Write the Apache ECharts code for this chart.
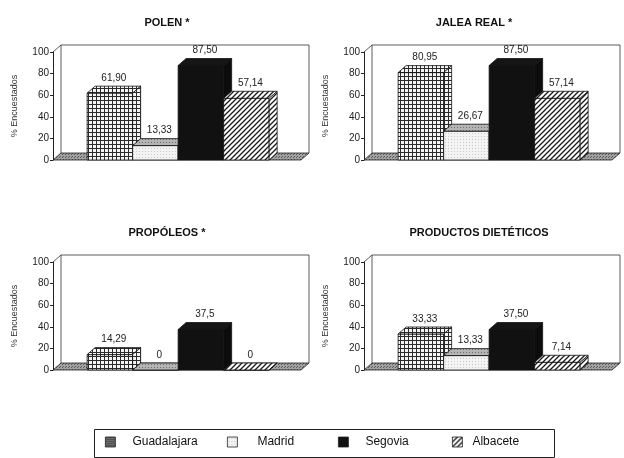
<!DOCTYPE html>
<html>
<head>
<meta charset="utf-8">
<script src="https://cdn.jsdelivr.net/npm/echarts@6/dist/echarts.min.js"></script>
<style>
  html, body { margin: 0; padding: 0; background: #fff; }
  #chart { width: 624px; height: 458px; }
</style>
</head>
<body>
<div id="chart"></div>
<script>
// Survey results: share of respondents (%) per province for four bee products
const cities = ['Guadalajara', 'Madrid', 'Segovia', 'Albacete'];
const panelTitles = ['POLEN *', 'JALEA REAL *', 'PROPÓLEOS *', 'PRODUCTOS DIETÉTICOS'];

const polen = [61.90, 13.33, 87.50, 57.14];
const jaleaReal = [80.95, 26.67, 87.50, 57.14];
const propoleos = [14.29, 0, 37.5, 0];
const dieteticos = [33.33, 13.33, 37.50, 7.14];

// decimals shown in each value label
const polenDec = [2, 2, 2, 2];
const jaleaDec = [2, 2, 2, 2];
const propoleosDec = [2, 0, 1, 0];
const dieteticosDec = [2, 2, 2, 2];

const yTicks = [0, 20, 40, 60, 80, 100];

const panelValues = [polen, jaleaReal, propoleos, dieteticos];
const panelDecimals = [polenDec, jaleaDec, propoleosDec, dieteticosDec];

// layout
const FONT = '"Liberation Sans", Arial, sans-serif';
const DX = 8, DY = -7;               // depth offset of the 3D boxes
const XMIN = -1.25, XMAX = 4.2;      // x range around the four bars
const gridLefts = [53, 364, 53, 364];
const gridTops = [52, 52, 262, 262];
const titleCenters = [162, 469, 162, 474];
const titleTops = [12, 12, 222, 222];

// tiled fills
function tile(w, h, draw) {
  const c = document.createElement('canvas');
  c.width = w; c.height = h;
  draw(c.getContext('2d'));
  return { image: c, repeat: 'repeat' };
}
const gridFill = tile(4, 4, g => {
  g.fillStyle = '#f4f4f4'; g.fillRect(0, 0, 4, 4);
  g.fillStyle = '#2a2a2a'; g.fillRect(0, 0, 4, 1); g.fillRect(0, 0, 1, 4);
});
const gridLegendFill = tile(2, 2, g => {
  g.fillStyle = '#6a6a6a'; g.fillRect(0, 0, 2, 2);
  g.fillStyle = '#3a3a3a'; g.fillRect(0, 0, 1, 1);
});
const lightFill = tile(3, 3, g => {
  g.fillStyle = '#f3f3f3'; g.fillRect(0, 0, 3, 3);
  g.fillStyle = '#c9c9c9'; g.fillRect(1, 1, 1, 1);
});
const greyFill = tile(3, 3, g => {
  g.fillStyle = '#b4b4b4'; g.fillRect(0, 0, 3, 3);
  g.fillStyle = '#6e6e6e'; g.fillRect(1, 1, 1, 1);
});
const hatchFill = tile(5, 5, g => {
  g.fillStyle = '#fff'; g.fillRect(0, 0, 5, 5);
  g.strokeStyle = '#1a1a1a'; g.lineWidth = 1.3;
  g.beginPath();
  g.moveTo(-1, 6); g.lineTo(6, -1);
  g.moveTo(-1, 1); g.lineTo(1, -1);
  g.moveTo(4, 6); g.lineTo(6, 4);
  g.stroke();
});
const floorFill = tile(3, 3, g => {
  g.fillStyle = '#a2a2a2'; g.fillRect(0, 0, 3, 3);
  g.fillStyle = '#5a5a5a'; g.fillRect(0, 0, 1, 1); g.fillRect(2, 1, 1, 1);
});

// front / top / side fills for each province
const faceFills = [
  { front: gridFill, top: gridFill, side: gridFill, legend: gridLegendFill },
  { front: lightFill, top: greyFill, side: greyFill, legend: lightFill },
  { front: '#111', top: '#151515', side: '#0c0c0c', legend: '#111' },
  { front: hatchFill, top: hatchFill, side: hatchFill, legend: hatchFill }
];

function fmt(v, d) {
  return v.toFixed(d).replace('.', ',');
}

function boxRenderer(cityIdx) {
  const f = faceFills[cityIdx];
  return function (params, api) {
    const i = api.value(0), v = api.value(1), d = api.value(2);
    const pl = api.coord([i - 0.5, 0]);
    const pr = api.coord([i + 0.5, 0]);
    const pt = api.coord([i, v]);
    const x0 = pl[0], x1 = pr[0], yb = pl[1], yt = pt[1];
    const stroke = { stroke: '#111', lineWidth: 0.8 };
    return {
      type: 'group',
      children: [
        { type: 'rect', shape: { x: x0, y: yt, width: x1 - x0, height: yb - yt },
          style: Object.assign({ fill: f.front }, stroke) },
        { type: 'polygon', shape: { points: [[x0, yt], [x0 + DX, yt + DY], [x1 + DX, yt + DY], [x1, yt]] },
          style: Object.assign({ fill: f.top }, stroke) },
        { type: 'polygon', shape: { points: [[x1, yt], [x1 + DX, yt + DY], [x1 + DX, yb + DY], [x1, yb]] },
          style: Object.assign({ fill: f.side }, stroke) },
        { type: 'text', x: (x0 + x1) / 2 + DX / 2, y: yt + DY - 3, z2: 50,
          style: { text: fmt(v, d), align: 'center', verticalAlign: 'bottom',
                   font: '10px ' + FONT, fill: '#222' } }
      ]
    };
  };
}

// floor slab and back wall of each panel
function floorRenderer(params, api) {
  const a = api.coord([XMIN, 0]);
  const b = api.coord([XMAX, 0]);
  const t = api.coord([XMIN, 100]);
  const xa = a[0], xb = b[0], yb = a[1], yt = t[1];
  return {
    type: 'group',
    children: [
      { type: 'polyline',
        shape: { points: [[xa + DX, yb + DY], [xa + DX, yt + DY], [xb + DX, yt + DY], [xb + DX, yb + DY]] },
        style: { stroke: '#333', lineWidth: 0.8, fill: null } },
      { type: 'line', shape: { x1: xa, y1: yt, x2: xa + DX, y2: yt + DY },
        style: { stroke: '#333', lineWidth: 0.8 } },
      { type: 'polygon',
        shape: { points: [[xa, yb], [xa + DX, yb + DY], [xb + DX, yb + DY], [xb, yb]] },
        style: { fill: floorFill, stroke: '#222', lineWidth: 0.8 } }
    ]
  };
}

const grids = [], xAxes = [], yAxes = [], titles = [], series = [];
for (let p = 0; p < 4; p++) {
  grids.push({ left: gridLefts[p], top: gridTops[p], width: 248, height: 108 });
  xAxes.push({ type: 'value', gridIndex: p, min: XMIN, max: XMAX, show: false });
  yAxes.push({
    type: 'value', gridIndex: p, min: yTicks[0], max: yTicks[yTicks.length - 1], interval: 20,
    name: '% Encuestados', nameLocation: 'middle', nameGap: 34, nameRotate: 90,
    nameTextStyle: { fontSize: 9, fontFamily: FONT, color: '#333' },
    axisLine: { show: true, onZero: false, lineStyle: { color: '#222', width: 1 } },
    axisTick: { show: true, length: 3, lineStyle: { color: '#222' } },
    axisLabel: { fontSize: 10, fontFamily: FONT, color: '#222', margin: 4 },
    splitLine: { show: false }
  });
  titles.push({
    text: panelTitles[p], left: titleCenters[p], top: titleTops[p], textAlign: 'center',
    textStyle: { fontSize: 11, fontWeight: 'bold', fontFamily: FONT, color: '#111' }
  });
  series.push({
    type: 'custom', name: 'floor' + p, xAxisIndex: p, yAxisIndex: p, z: 1,
    silent: true, data: [[XMIN, XMAX]], renderItem: floorRenderer
  });
  for (let c = 0; c < 4; c++) {
    series.push({
      type: 'custom', name: cities[c], xAxisIndex: p, yAxisIndex: p, z: 2,
      itemStyle: { color: faceFills[c].legend },
      dimensions: ['pos', 'value', 'decimals'],
      data: [[c, panelValues[p][c], panelDecimals[p][c]]],
      renderItem: boxRenderer(c)
    });
  }
}

// one legend entry per province, laid out in a bordered strip
const legendLefts = [105, 227, 338, 452];
const legendTextPad = [12, 15, 12, 5];
const legends = cities.map((c, k) => ({
  data: [c], left: legendLefts[k], top: 436, padding: 0,
  itemWidth: 10, itemHeight: 10, icon: 'rect', selectedMode: false,
  itemStyle: { borderColor: '#222', borderWidth: 0.8 },
  textStyle: { fontSize: 12, fontFamily: FONT, color: '#111', padding: [0, 0, 0, legendTextPad[k]] }
}));

const chart = echarts.init(document.getElementById('chart'), null, { renderer: 'canvas' });
chart.setOption({
  animation: false,
  backgroundColor: '#fff',
  title: titles,
  grid: grids,
  xAxis: xAxes,
  yAxis: yAxes,
  legend: legends,
  graphic: [{
    type: 'rect', left: 92, top: 427, silent: true,
    shape: { width: 460, height: 28 },
    style: { fill: null, stroke: '#222', lineWidth: 1 }
  }],
  series: series
});
</script>
</body>
</html>
